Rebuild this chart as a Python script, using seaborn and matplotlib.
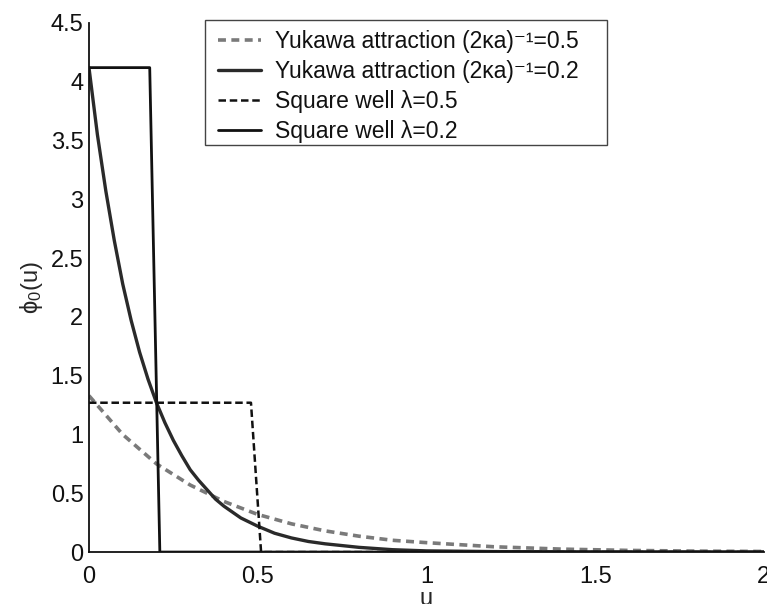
import numpy as np
import pandas as pd
import seaborn as sns
import matplotlib.pyplot as plt
from matplotlib.patches import Rectangle

# Datos
u_yuk_05 = [0.0, 0.1, 0.2, 0.3, 0.4, 0.5, 0.6, 0.7, 0.8, 0.9, 1.0, 1.2, 1.4, 1.6, 1.8, 2.0]
phi_yuk_05 = [1.33, 1.00, 0.75, 0.57, 0.43, 0.32, 0.24, 0.18, 0.135, 0.10, 0.08, 0.045, 0.025, 0.014, 0.008, 0.005]

u_yuk_02 = [0.0, 0.025, 0.05, 0.075, 0.1, 0.125, 0.15, 0.175, 0.2, 0.225, 0.25, 0.275, 0.3,
            0.325, 0.35, 0.375, 0.4, 0.45, 0.5, 0.55, 0.6, 0.65, 0.7, 0.8, 0.9, 1.0, 1.2, 1.5, 2.0]
phi_yuk_02 = [4.12, 3.55, 3.07, 2.65, 2.28, 1.97, 1.70, 1.47, 1.27, 1.10, 0.95, 0.82, 0.70,
              0.61, 0.53, 0.45, 0.39, 0.29, 0.22, 0.16, 0.12, 0.09, 0.07, 0.04, 0.02, 0.01, 0.004, 0.001, 0.0]

u_sq_05 = [0.0, 0.48, 0.51, 2.0]
phi_sq_05 = [1.27, 1.27, 0.0, 0.0]

u_sq_02 = [0.0, 0.18, 0.21, 2.0]
phi_sq_02 = [4.12, 4.12, 0.0, 0.0]

labels = ["Yukawa attraction (2κa)⁻¹=0.5",
          "Yukawa attraction (2κa)⁻¹=0.2",
          "Square well λ=0.5",
          "Square well λ=0.2"]

x_ticks = [0, 0.5, 1, 1.5, 2]
x_ticklabels = ["0", "0.5", "1", "1.5", "2"]
y_ticks = [0, 0.5, 1, 1.5, 2, 2.5, 3, 3.5, 4, 4.5]
y_ticklabels = ["0", "0.5", "1", "1.5", "2", "2.5", "3", "3.5", "4", "4.5"]

sns.set_style("white")
plt.rcParams["font.family"] = ["Liberation Sans", "DejaVu Sans"]
plt.rcParams["mathtext.fontset"] = "custom"
plt.rcParams["mathtext.rm"] = "Liberation Sans"
plt.rcParams["mathtext.it"] = "Liberation Sans"

fig = plt.figure(figsize=(7.67, 6.04), dpi=100)
ax = fig.add_axes([0.116, 0.086, 0.880, 0.876])

sns.lineplot(x=u_yuk_05, y=phi_yuk_05, ax=ax, color="#7a7a7a", lw=2.6,
             linestyle=(0, (2.2, 1.5)), estimator=None, sort=False, label=labels[0])
sns.lineplot(x=u_yuk_02, y=phi_yuk_02, ax=ax, color="#2a2a2a", lw=2.4,
             estimator=None, sort=False, label=labels[1])
sns.lineplot(x=u_sq_05, y=phi_sq_05, ax=ax, color="#111111", lw=1.8,
             linestyle=(0, (3, 1.5)), estimator=None, sort=False, label=labels[2])
sns.lineplot(x=u_sq_02, y=phi_sq_02, ax=ax, color="#111111", lw=2.0,
             estimator=None, sort=False, label=labels[3])

ax.set_xlim(0, 2)
ax.set_ylim(0, 4.5)
ax.set_xticks(x_ticks)
ax.set_xticklabels(x_ticklabels)
ax.set_yticks(y_ticks)
ax.set_yticklabels(y_ticklabels)
ax.tick_params(direction="in", length=5, width=1.2, labelsize=17, colors="#111111")
ax.tick_params(axis="x", pad=10)
ax.tick_params(axis="y", pad=4)

for side in ["top", "right"]:
    ax.spines[side].set_visible(False)
for side in ["left", "bottom"]:
    ax.spines[side].set_color("#111111")
    ax.spines[side].set_linewidth(1.3)

ax.set_xlabel("u", fontsize=17, labelpad=0)
ax.set_ylabel("ϕ$_0$(u)", fontsize=17, labelpad=4)

# Leyenda sin marco + recuadro dibujado aparte
leg = ax.legend(frameon=False, loc="upper left", bbox_to_anchor=(0.191, 0.986),
                borderaxespad=0, borderpad=0, handlelength=1.9, handletextpad=0.6,
                labelspacing=0.3, fontsize=16.5)
for t in leg.get_texts():
    t.set_color("#111111")
ax.add_patch(Rectangle((0.172, 0.769), 0.595, 0.237, transform=ax.transAxes,
                       fill=False, edgecolor="#444444", lw=1.0, clip_on=False, zorder=5))

fig.savefig("out.png", dpi=100)
